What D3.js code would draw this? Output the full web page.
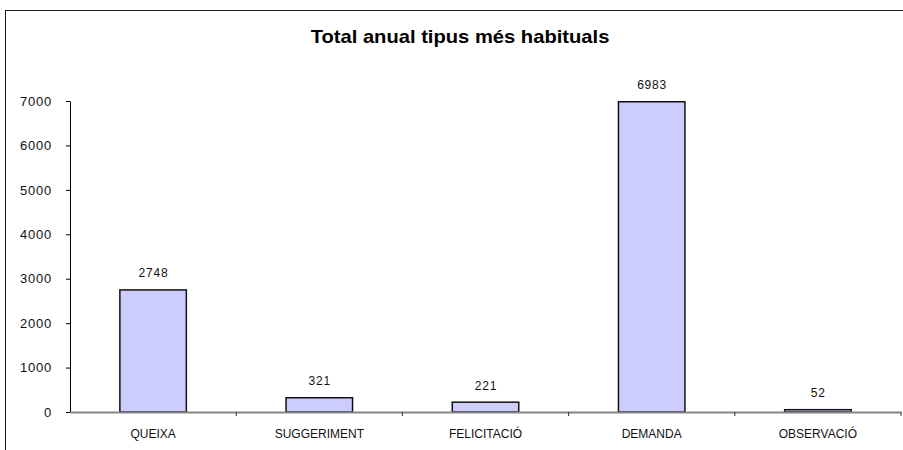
<!DOCTYPE html>
<html>
<head>
<meta charset="utf-8">
<script src="https://cdn.jsdelivr.net/npm/d3@7"></script>
<style>
  html, body { margin: 0; padding: 0; background: #fff; }
  svg { display: block; font-family: "Liberation Sans", Arial, sans-serif; }
</style>
</head>
<body>
<svg id="chart" width="903" height="450"></svg>
<script>
const titleText = "Total anual tipus més habituals";
const categories = ["QUEIXA", "SUGGERIMENT", "FELICITACIÓ", "DEMANDA", "OBSERVACIÓ"];
const values = [2748, 321, 221, 6983, 52];
const yTicks = [0, 1000, 2000, 3000, 4000, 5000, 6000, 7000];

const svg = d3.select("#chart");

function stretch(sel, sx) {
  sel.each(function () {
    const t = d3.select(this);
    const ax = +(t.attr("x") || 0);
    t.attr("transform", `translate(${ax},0) scale(${sx},1) translate(${-ax},0)`);
  });
}

// outer frame (extends beyond right/bottom edge)
svg.append("rect")
  .attr("x", 5.5).attr("y", 10.5)
  .attr("width", 920).attr("height", 460)
  .attr("fill", "#fff").attr("stroke", "#1a1a1a").attr("stroke-width", 1);

// title
const title = svg.append("text")
  .attr("x", 460).attr("y", 43)
  .attr("text-anchor", "middle")
  .attr("font-size", 18).attr("font-weight", "bold")
  .attr("fill", "#000")
  .text(titleText);
stretch(title, 1.12);

const x = d3.scaleBand()
  .domain(categories)
  .range([70, 901])
  .paddingInner(0.6)
  .paddingOuter(0.3);

const y = d3.scaleLinear()
  .domain([0, 7000])
  .range([412, 101]);

// bars
svg.append("g").selectAll("rect")
  .data(categories)
  .join("rect")
  .attr("x", d => x(d))
  .attr("width", x.bandwidth())
  .attr("y", (d, i) => y(values[i]))
  .attr("height", (d, i) => y(0) - y(values[i]))
  .attr("fill", "#ccccff")
  .attr("stroke", "#111")
  .attr("stroke-width", 1.5);

// y axis
const yAxis = svg.append("g")
  .attr("transform", "translate(70,0)")
  .call(d3.axisLeft(y).tickValues(yTicks).tickFormat(d3.format("d"))
    .tickSize(4).tickSizeOuter(0).tickPadding(14));
yAxis.select(".domain").attr("stroke", "#000").attr("stroke-width", 1);
yAxis.selectAll(".tick line").attr("stroke", "#000");
yAxis.selectAll(".tick text")
  .attr("font-size", 13).attr("fill", "#111")
  .attr("letter-spacing", "0.8px")
  .attr("font-family", "'Liberation Sans', Arial, sans-serif");

// x axis
const xAxis = svg.append("g")
  .attr("transform", `translate(0,${y(0)})`)
  .call(d3.axisBottom(x).tickSize(0).tickSizeOuter(0).tickPadding(17.5));
xAxis.select(".domain").attr("stroke", "#858585").attr("stroke-width", 2);
xAxis.selectAll(".tick text")
  .attr("font-size", 12).attr("fill", "#111")
  .attr("font-family", "'Liberation Sans', Arial, sans-serif");

// category boundary ticks
const boundaries = categories.map(c => x(c) + x.bandwidth() + x.step() * x.paddingInner() / 2);
xAxis.append("g").selectAll("line")
  .data(boundaries)
  .join("line")
  .attr("x1", d => d).attr("x2", d => d)
  .attr("y1", 0).attr("y2", 4)
  .attr("stroke", "#333").attr("stroke-width", 1);

// value labels
svg.append("g").selectAll("text")
  .data(categories)
  .join("text")
  .attr("x", d => x(d) + x.bandwidth() / 2 + 0.4)
  .attr("y", (d, i) => y(values[i]) - 12.5)
  .attr("text-anchor", "middle")
  .attr("font-size", 12)
  .attr("letter-spacing", "0.8px")
  .attr("fill", "#111")
  .text((d, i) => values[i]);
</script>
</body>
</html>
